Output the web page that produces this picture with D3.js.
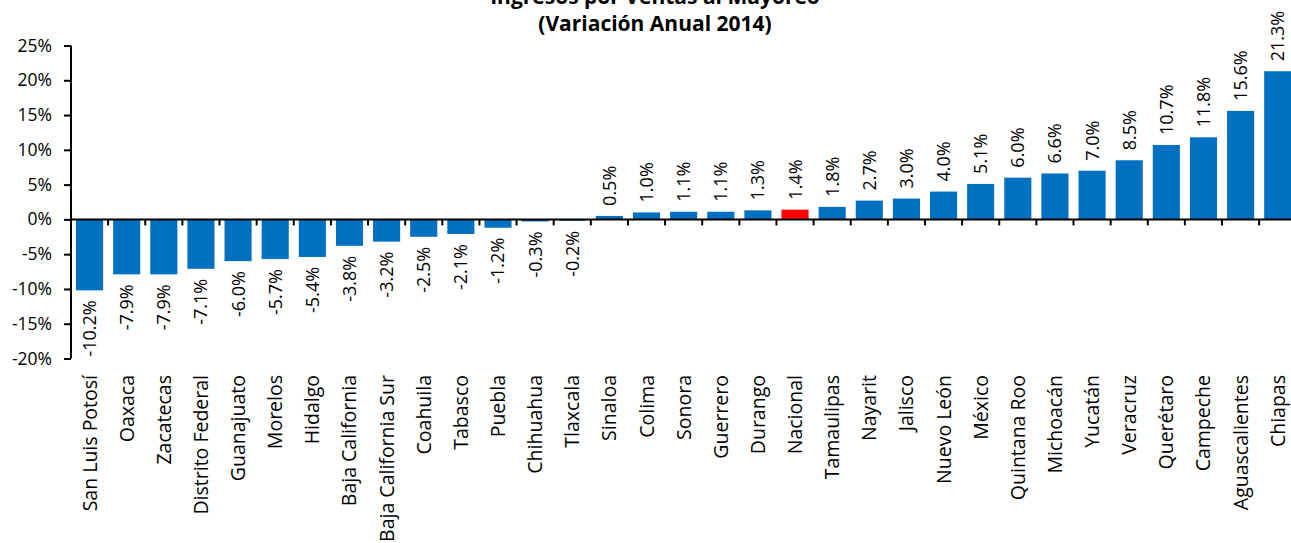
<!DOCTYPE html>
<html>
<head>
<meta charset="utf-8">
<script src="https://cdn.jsdelivr.net/npm/d3@7"></script>
<style>
  body { margin: 0; background: #fff; }
  svg { display: block; font-family: "Open Sans", sans-serif; }
</style>
</head>
<body>
<div id="chart"></div>
<script>
// Data
const estados = ["San Luis Potosí", "Oaxaca", "Zacatecas", "Distrito Federal", "Guanajuato", "Morelos",
  "Hidalgo", "Baja California", "Baja California Sur", "Coahuila", "Tabasco", "Puebla", "Chihuahua",
  "Tlaxcala", "Sinaloa", "Colima", "Sonora", "Guerrero", "Durango", "Nacional", "Tamaulipas", "Nayarit",
  "Jalisco", "Nuevo León", "México", "Quintana Roo", "Michoacán", "Yucatán", "Veracruz", "Querétaro",
  "Campeche", "Aguascalientes", "Chiapas"];
const variacion = [-10.2, -7.9, -7.9, -7.1, -6.0, -5.7, -5.4, -3.8, -3.2, -2.5, -2.1, -1.2, -0.3,
  -0.2, 0.5, 1.0, 1.1, 1.1, 1.3, 1.4, 1.8, 2.7, 3.0, 4.0, 5.1, 6.0, 6.6, 7.0, 8.5, 10.7,
  11.8, 15.6, 21.3];
const yTicks = [-20, -15, -10, -5, 0, 5, 10, 15, 20, 25];
const destacado = "Nacional";

const width = 1291, height = 543;
const data = estados.map((e, i) => ({ estado: e, valor: variacion[i] }));

const svg = d3.select("#chart").append("svg")
  .attr("width", width)
  .attr("height", height);

// Scales
const x = d3.scaleBand().domain(estados).range([71, 71 + 33 * 37.13]).paddingInner(0.27).paddingOuter(0.135);
const y = d3.scaleLinear().domain([-20, 25]).range([358.5, 45.5]);

// Title
const title = svg.append("text")
  .attr("text-anchor", "middle")
  .attr("font-weight", "bold")
  .attr("font-size", 21)
  .attr("fill", "#000");
title.append("tspan").attr("x", 655).attr("y", 4).text("Ingresos por Ventas al Mayoreo");
title.append("tspan").attr("x", 655).attr("y", 31).text("(Variación Anual 2014)");

// Bars
svg.append("g").selectAll("rect")
  .data(data)
  .join("rect")
  .attr("x", d => x(d.estado))
  .attr("width", x.bandwidth())
  .attr("y", d => y(Math.max(0, d.valor)))
  .attr("height", d => Math.abs(y(d.valor) - y(0)))
  .attr("fill", d => d.estado === destacado ? "#FF0000" : "#0070C0");

// Y axis
const yAxis = svg.append("g")
  .attr("transform", "translate(71,0)")
  .call(d3.axisLeft(y).tickValues(yTicks).tickSize(7).tickPadding(12).tickFormat(d => d + "%"));
yAxis.select(".domain").attr("stroke", "#000").attr("stroke-width", 2).attr("d", `M0,${y(25)}V${y(-20)}`);
yAxis.selectAll(".tick line").attr("stroke", "#000").attr("stroke-width", 2);
yAxis.selectAll(".tick text").attr("font-size", 17.5).attr("fill", "#000").attr("font-family", "'Open Sans', sans-serif");

// X axis at zero line
const x0 = y(0);
svg.append("line")
  .attr("x1", 71).attr("x2", width)
  .attr("y1", x0).attr("y2", x0)
  .attr("stroke", "#000").attr("stroke-width", 2);
const step = x.step();
svg.append("g").selectAll("line")
  .data(d3.range(1, estados.length))
  .join("line")
  .attr("x1", i => 71 + i * step)
  .attr("x2", i => 71 + i * step)
  .attr("y1", x0).attr("y2", x0 + 6)
  .attr("stroke", "#000").attr("stroke-width", 2);

// Data labels
svg.append("g").selectAll("text")
  .data(data)
  .join("text")
  .attr("transform", d => {
    const cx = x(d.estado) + x.bandwidth() / 2;
    const cy = d.valor >= 0 ? y(d.valor) - 10 : y(d.valor) + 10;
    return `translate(${cx + 6.5},${cy}) rotate(-90)`;
  })
  .attr("text-anchor", d => d.valor >= 0 ? "start" : "end")
  .attr("font-size", 18)
  .attr("fill", "#000")
  .text(d => d.valor.toFixed(1) + "%");

// Category labels
svg.append("g").selectAll("text")
  .data(data)
  .join("text")
  .attr("transform", d => `translate(${x(d.estado) + x.bandwidth() / 2 + 7},375) rotate(-90)`)
  .attr("text-anchor", "end")
  .attr("font-size", 19.5)
  .attr("fill", "#000")
  .text(d => d.estado);
</script>
</body>
</html>
